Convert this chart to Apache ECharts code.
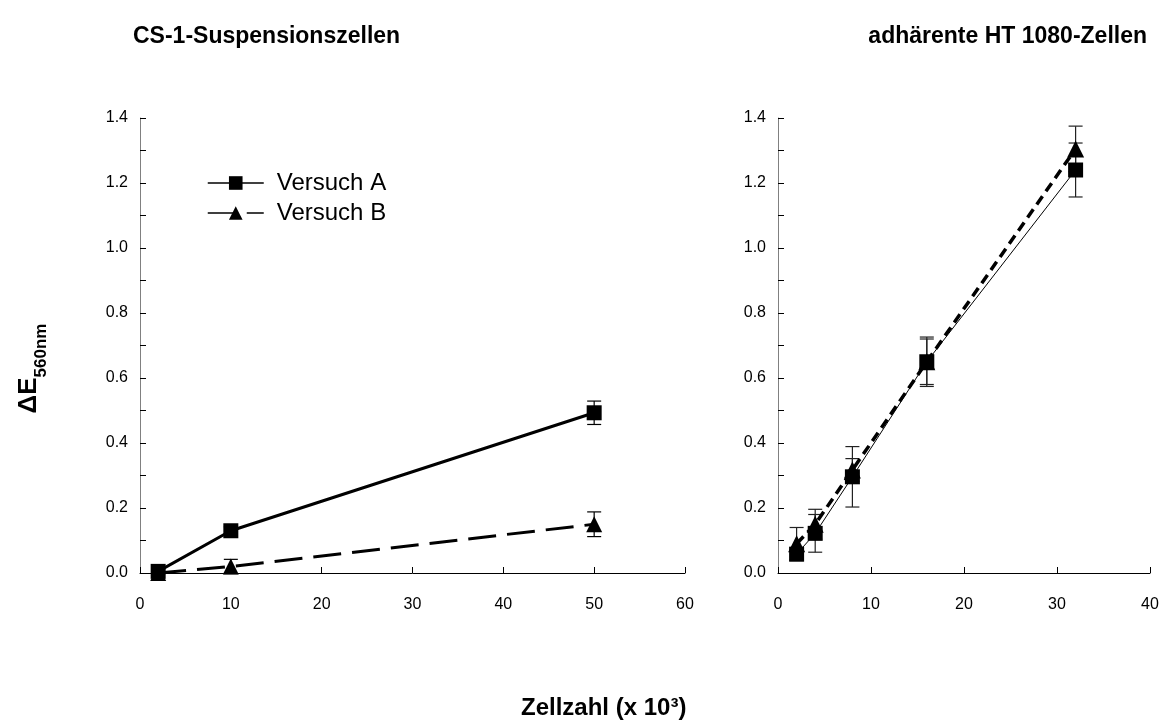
<!DOCTYPE html>
<html>
<head>
<meta charset="utf-8">
<style>
  html, body { margin: 0; padding: 0; background: #fff; }
  #chart { width: 1168px; height: 724px; }
</style>
<script src="https://cdn.jsdelivr.net/npm/echarts@6/dist/echarts.min.js"></script>
</head>
<body>
<div id="chart"></div>
<script>
// CS-1 suspension cells: cell count (x 10^3) vs. extinction difference at 560 nm
const csX = [2, 10, 50];
const csA = [0.005, 0.13, 0.493];
const csAErr = [0.005, 0.012, 0.036];
const csB = [0.0, 0.02, 0.15];
const csBErr = [0.004, 0.022, 0.038];

// adherent HT 1080 cells
const htX = [2, 4, 8, 16, 32];
const htA = [0.058, 0.122, 0.296, 0.65, 1.24];
const htAErr = [0.02, 0.058, 0.093, 0.076, 0.083];
const htB = [0.09, 0.15, 0.317, 0.65, 1.305];
const htBErr = [0.05, 0.046, 0.035, 0.07, 0.07];

const yTicks = [0, 0.2, 0.4, 0.6, 0.8, 1.0, 1.2, 1.4];

const FONT = '"Liberation Sans", Arial, sans-serif';

function pairs(xs, ys) { return xs.map((x, i) => [x, ys[i]]); }
function errRows(xs, ys, es) { return xs.map((x, i) => [x, ys[i], es[i]]); }

function errorBars(xIdx, rows, color) {
  return {
    type: 'custom',
    xAxisIndex: xIdx,
    yAxisIndex: xIdx,
    silent: true,
    z: 3,
    data: rows,
    renderItem: function (params, api) {
      const x = api.value(0), y = api.value(1), e = api.value(2);
      const hi = api.coord([x, y + e]);
      const lo = api.coord([x, y - e]);
      const cap = 7;
      const st = { stroke: color, lineWidth: 1.2 };
      return {
        type: 'group',
        children: [
          { type: 'line', shape: { x1: hi[0], y1: hi[1], x2: lo[0], y2: lo[1] }, style: st },
          { type: 'line', shape: { x1: hi[0] - cap, y1: hi[1], x2: hi[0] + cap, y2: hi[1] }, style: st },
          { type: 'line', shape: { x1: lo[0] - cap, y1: lo[1], x2: lo[0] + cap, y2: lo[1] }, style: st }
        ]
      };
    }
  };
}

function yAxis(gridIndex, withName) {
  const ax = {
    type: 'value',
    gridIndex: gridIndex,
    min: 0,
    max: 1.4,
    interval: 0.1,
    splitLine: { show: false },
    axisLine: { show: true, lineStyle: { color: '#808080', width: 1 } },
    axisTick: { show: true, inside: true, length: 6, lineStyle: { color: '#000' } },
    axisLabel: {
      color: '#000', fontSize: 16, fontFamily: FONT, margin: 12,
      formatter: function (v) {
        const hit = yTicks.some(t => Math.abs(t - v) < 1e-6);
        return hit ? v.toFixed(1) : '';
      }
    }
  };
  if (withName) {
    ax.name = '{m|ΔE}{s|560nm}';
    ax.nameLocation = 'middle';
    ax.nameRotate = 90;
    ax.nameGap = 90;
    ax.nameTextStyle = {
      padding: [0, 46, 0, 0],
      rich: {
        m: { fontSize: 26, fontWeight: 'bold', fontFamily: FONT, color: '#000', lineHeight: 34, verticalAlign: 'top' },
        s: { fontSize: 17, fontWeight: 'bold', fontFamily: FONT, color: '#000', lineHeight: 15, verticalAlign: 'bottom' }
      }
    };
  }
  return ax;
}

function xAxis(gridIndex, max) {
  return {
    type: 'value',
    gridIndex: gridIndex,
    min: 0,
    max: max,
    interval: 10,
    splitLine: { show: false },
    axisLine: { show: true, onZero: false, lineStyle: { color: '#000', width: 1 } },
    axisTick: { show: true, inside: true, length: 6, lineStyle: { color: '#000' } },
    axisLabel: { color: '#000', fontSize: 16, fontFamily: FONT, margin: 24 }
  };
}

const chart = echarts.init(document.getElementById('chart'), null, { renderer: 'canvas' });

const titleStyle = { fontSize: 23, fontWeight: 'bold', fontFamily: FONT, color: '#000' };

chart.setOption({
  animation: false,
  backgroundColor: '#fff',
  title: [
    { text: 'CS-1-Suspensionszellen', left: 128, top: 20, textStyle: titleStyle },
    { text: 'adhärente HT 1080-Zellen', right: 16, top: 20, textStyle: titleStyle },
    { text: 'Zellzahl (x 10³)', left: 516, top: 691,
      textStyle: Object.assign({}, titleStyle, { fontSize: 24 }) }
  ],
  legend: {
    data: ['Versuch A', 'Versuch B'],
    orient: 'vertical',
    left: 202,
    top: 166,
    itemWidth: 56,
    itemHeight: 17,
    itemGap: 6,
    textStyle: { fontSize: 24, fontFamily: FONT, color: '#000', padding: [0, 0, 0, 8] },
    lineStyle: { width: 1.5 },
    selectedMode: false
  },
  grid: [
    { left: 140, top: 118, width: 545, height: 455 },
    { left: 778, top: 118, width: 372, height: 455 }
  ],
  xAxis: [xAxis(0, 60), xAxis(1, 40)],
  yAxis: [yAxis(0, true), yAxis(1, false)],
  series: [
    errorBars(0, errRows(csX, csA, csAErr), '#000'),
    errorBars(0, errRows(csX, csB, csBErr), '#000'),
    {
      name: 'Versuch B', type: 'line', xAxisIndex: 0, yAxisIndex: 0,
      data: pairs(csX, csB), symbol: 'triangle', symbolSize: 16, z: 4,
      itemStyle: { color: '#000' },
      lineStyle: { color: '#000', width: 3, type: [28, 11] }
    },
    {
      name: 'Versuch A', type: 'line', xAxisIndex: 0, yAxisIndex: 0,
      data: pairs(csX, csA), symbol: 'rect', symbolSize: 15, z: 5,
      itemStyle: { color: '#000' },
      lineStyle: { color: '#000', width: 3 }
    },
    errorBars(1, errRows(htX, htA, htAErr), '#222'),
    errorBars(1, errRows(htX, htB, htBErr), '#222'),
    {
      name: 'Versuch B', type: 'line', xAxisIndex: 1, yAxisIndex: 1,
      data: pairs(htX, htB), symbol: 'triangle', symbolSize: 17, z: 4,
      itemStyle: { color: '#000' },
      lineStyle: { color: '#000', width: 3.5, type: [10, 6] }
    },
    {
      name: 'Versuch A', type: 'line', xAxisIndex: 1, yAxisIndex: 1,
      data: pairs(htX, htA), symbol: 'rect', symbolSize: 15, z: 5,
      itemStyle: { color: '#000' },
      lineStyle: { color: '#000', width: 1 }
    }
  ]
});
</script>
</body>
</html>
